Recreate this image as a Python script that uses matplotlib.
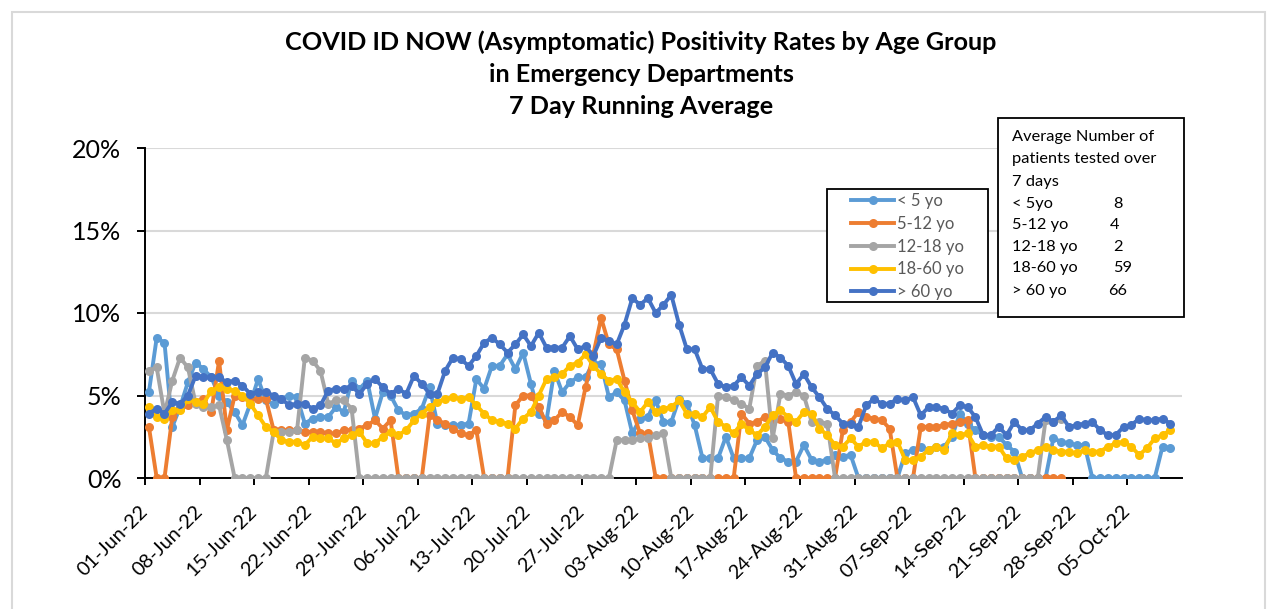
import numpy as np
import pandas as pd
import matplotlib
matplotlib.use('Agg')
import matplotlib.pyplot as plt
import matplotlib.dates as mdates
from matplotlib.patches import Rectangle
from matplotlib.ticker import PercentFormatter

plt.rcParams['font.family'] = ['Lato', 'DejaVu Sans']

# 7 day running average positivity (%), one value per day from 01-Jun-22
start = '2022-06-01'
n_days = 132
nan = np.nan

under5 = [5.2, 8.5, 8.2, 3.1, 4.3, 5.8, 7.0, 6.6, 6.1, 5.0, 4.6, 4.0, 3.2, 4.5, 6.0, 4.7, 4.5, 4.8, 5.0, 4.9,
          3.3, 3.6, 3.7, 3.7, 4.3, 4.0, 5.9, 5.4, 5.9, 3.6, 5.2, 5.0, 4.1, 3.8,
          3.9, 4.2, 5.5, 3.3, 3.2, 3.2, 3.2, 3.3, 6.0, 5.4, 6.8, 6.8, 7.5, 6.6, 7.6, 5.7, 3.9, 3.5, 6.5, 5.2,
          5.8, 6.1, 6.1, 7.0, 6.9, 4.9, 5.2, 4.7, 2.7, 3.6, 3.7,
          4.7, 3.4, 3.4, 4.8, 4.5, 3.2, 1.2, 1.2, 1.2, 2.5, 1.2, 1.2, 1.2, 2.3, 2.5, 1.7, 1.2, 1.0, 1.0, 2.0,
          1.1, 1.0, 1.1,
          1.4, 1.3, 1.4, 0, 0, 0, 0, 0, 0, 1.5, 1.7, 1.9,
          1.7, 1.9, 1.9, 2.5, 3.9, 3.3, 2.9, 2.6, 2.5, 2.5, 2.0, 1.6, 0, 0, 0, 0, 2.4, 2.2, 2.1, 2.0, 2.0,
          0, 0, 0, 0, 0, 0, 0, 0, 0, 1.9, 1.8]

age5_12 = [3.1, 0, 0, 3.7, 4.2, 4.4, 4.6, 4.8, 4.0, 7.1,
           2.9, 5.0, 4.9, 4.8, 4.8, 4.8, 2.9, 2.9, 2.9, 2.9, 2.8, 2.8, 2.8, 2.7, 2.7, 2.9, 2.9, 3.0, 3.2, 3.5,
           3.0, 3.5, 0, 0,
           0, 0, 3.8, 3.5, 3.3, 3.0, 2.7, 2.6, 2.9, 0, 0, 0, 0, 4.4, 5.0, 5.0, 4.3, 3.3, 3.5, 4.0, 3.7, 3.2,
           5.5, 7.5, 9.7, 8.1, 7.8, 5.9, 4.1, 2.7, 2.7, 0, 0,
           0, 0, 0, 0, 0, 0, 0, 0, 0, 3.9, 3.3, 3.4, 3.7, 3.5, 3.6, 3.4, 0, 0, 0, 0, 0, 0,
           2.9, 3.4, 4.0, 3.7, 3.6, 3.5, 3.0, 0, 0, 0, 3.1,
           3.1, 3.1, 3.2, 3.3, 3.4, 3.5, 0, 0, 0, 0, 0, 0, 0, 0, 0, 0, 0, 0,
           nan, nan, nan, nan, nan, nan, nan, nan, nan, nan, nan, nan, nan, nan]

age12_18 = [6.5, 6.7, 3.9, 5.9, 7.3, 6.7, 4.5, 4.3, 4.3, 4.4, 2.3, 0, 0, 0, 0, 0, 2.8, 2.8, 2.8, 2.9,
            7.3, 7.1, 6.5, 4.5, 4.7, 4.7, 4.2] + [0] * 33 + \
           [2.3, 2.3, 2.3, 2.4, 2.4, 2.6, 2.7] + [0] * 6 + \
           [5.0, 4.9, 4.7, 4.5, 4.2, 6.8, 7.1, 2.4, 5.1, 5.0, 5.2, 5.0, 3.4, 3.4, 3.3] + [0] * 27 + \
           [3.5, 3.4, 3.6] + [nan] * 14

age18_60 = [4.3, 3.7, 3.6, 4.1, 4.1, 4.8, 4.6, 4.5, 5.3, 5.5, 5.4, 5.3, 5.0, 4.5, 3.8, 3.1, 2.8, 2.3, 2.2,
            2.2, 2.0, 2.5, 2.4, 2.4, 2.1, 2.4, 2.6, 2.8, 2.1, 2.1, 2.5, 2.8, 2.6, 2.9,
            3.5, 3.9, 4.3, 4.6, 4.8, 4.9, 4.8, 4.9, 4.4, 3.9, 3.5, 3.4, 3.3, 3.0, 3.6, 4.0, 5.0, 6.0, 6.1,
            6.3, 6.8, 7.0, 7.5, 6.8, 6.3, 5.9, 6.0, 5.2, 4.6, 4.0, 4.6,
            4.0, 4.2, 4.3, 4.7, 3.9, 3.9, 3.7, 4.3, 3.4, 3.1, 2.7, 3.3, 2.9, 2.6, 3.1, 3.8, 4.1, 3.7, 3.4,
            4.0, 3.9, 3.0, 2.6, 2.0, 1.9, 2.4, 1.9, 2.2, 2.2, 1.8, 2.1, 2.2, 1.1,
            1.1, 1.3, 1.7, 1.9, 1.7, 2.7, 2.6, 2.7, 1.9, 2.0, 1.9, 1.9, 1.2, 1.1, 1.3, 1.5, 1.7, 1.9, 1.7,
            1.6, 1.6, 1.5, 1.7, 1.6, 1.6, 1.9, 2.1, 2.2, 1.9, 1.4, 1.8, 2.4, 2.6, 2.9]

over60 = [3.9, 4.2, 3.9, 4.6, 4.5, 5.0, 6.2, 6.1, 6.1, 6.1, 5.8, 5.9, 5.6, 5.1, 5.2, 5.2, 5.0, 4.8, 4.4,
          4.5, 4.5, 4.2, 4.4, 5.3, 5.4, 5.4, 5.6, 5.1, 5.7, 6.0, 5.5, 5.1, 5.4, 5.1,
          6.2, 5.7, 5.1, 5.1, 6.5, 7.3, 7.2, 6.8, 7.4, 8.2, 8.5, 8.1, 7.6, 8.1, 8.7, 8.0, 8.8, 7.9, 7.9,
          7.9, 8.6, 7.8, 8.0, 7.4, 8.5, 8.3, 8.1, 9.3, 10.9, 10.5, 10.9,
          10.0, 10.5, 11.1, 9.3, 7.8, 7.8, 6.6, 6.6, 5.7, 5.5, 5.6, 6.1, 5.6, 6.3, 6.7, 7.6, 7.3, 6.8, 5.7,
          6.3, 5.5, 4.9, 4.2, 3.8, 3.3, 3.3, 3.1, 4.4, 4.8, 4.5, 4.5, 4.8, 4.7,
          4.9, 3.8, 4.3, 4.3, 4.2, 3.9, 4.4, 4.3, 3.7, 2.6, 2.6, 3.1, 2.6, 3.4, 2.9, 2.9, 3.3, 3.7, 3.4,
          3.8, 3.1, 3.2, 3.3, 3.4, 2.9, 2.6, 2.6, 3.1, 3.2, 3.6, 3.5, 3.5, 3.6, 3.3]

labels = ['< 5 yo', '5-12 yo', '12-18 yo', '18-60 yo', '> 60 yo']
colors = ['#5B9BD5', '#ED7D31', '#A5A5A5', '#FFC000', '#4472C4']
series = [under5, age5_12, age12_18, age18_60, over60]

tested_groups = ['< 5yo', '5-12 yo', '12-18 yo', '18-60 yo', '> 60 yo']
tested_counts = ['8', '4', '2', '59', '66']

W, H = 1270, 609
fig = plt.figure(figsize=(W / 100, H / 100), dpi=100)

def fx(px):
    return px / W

def fy(py):
    return 1 - py / H

# light chart border
fig.patches.append(Rectangle((fx(12), fy(620)), fx(1265) - fx(12), fy(12) - fy(620),
                             transform=fig.transFigure, fill=False, edgecolor='#D9D9D9', lw=1.5))

ax = fig.add_axes([fx(145), fy(478), fx(1182) - fx(145), fy(148) - fy(478)])

dates = pd.date_range(start, periods=n_days, freq='D') + pd.Timedelta(hours=12)
lines = []
for vals, col, lab in zip(series, colors, labels):
    ln, = ax.plot(dates, vals, color=col, lw=2.8, marker='o', markersize=6.5,
                  markeredgewidth=0, label=lab, solid_joinstyle='round')
    lines.append(ln)

ax.set_ylim(0, 20)
ax.set_yticks([0, 5, 10, 15, 20])
ax.yaxis.set_major_formatter(PercentFormatter(xmax=100, decimals=0))
ax.set_xlim(pd.Timestamp('2022-06-01'), pd.Timestamp('2022-10-12'))
ax.set_xticks(pd.date_range('2022-06-01', '2022-10-05', freq='7D'))
ax.xaxis.set_major_formatter(mdates.DateFormatter('%d-%b-%y'))
ax.grid(axis='y', color='#D9D9D9', lw=1.5, zorder=0)
ax.set_axisbelow(True)
for s in ['top', 'right']:
    ax.spines[s].set_visible(False)
for s in ['left', 'bottom']:
    ax.spines[s].set_linewidth(1.4)
    ax.spines[s].set_color('black')
    ax.spines[s].set_zorder(1)
ax.tick_params(axis='y', direction='out', length=6, width=1.4, labelsize=18, pad=11)
ax.tick_params(axis='x', direction='out', length=5, width=1.4, labelsize=14.3, pad=17)
for t in ax.get_xticklabels():
    t.set_rotation(45)
    t.set_ha('right')
    t.set_va('center')
    t.set_rotation_mode('anchor')

# title
title_lines = ['COVID ID NOW (Asymptomatic) Positivity Rates by Age Group',
               'in Emergency Departments', '7 Day Running Average']
for txt, y in zip(title_lines, [42, 74, 107]):
    fig.text(fx(641), fy(y), txt, ha='center', va='center', fontsize=18.2, fontweight='bold')

# legend box
fig.patches.append(Rectangle((fx(827), fy(302)), fx(988) - fx(827), fy(189) - fy(302),
                             transform=fig.transFigure, facecolor='white', edgecolor='black', lw=1.3,
                             zorder=5))
leg = fig.legend(handles=lines, loc='upper left', bbox_to_anchor=(fx(851), fy(193)),
                 frameon=False, borderpad=0, borderaxespad=0, fontsize=12,
                 handlelength=2.6, handletextpad=0.15, labelspacing=0.41)
leg.set_zorder(6)
for t in leg.get_texts():
    t.set_color('#595959')

# patients tested box
fig.patches.append(Rectangle((fx(998), fy(317)), fx(1184) - fx(998), fy(118) - fy(317),
                             transform=fig.transFigure, facecolor='white', edgecolor='black', lw=1.3,
                             zorder=5))
for txt, y in zip(['Average Number of', 'patients tested over', '7 days'], [137, 159, 182]):
    fig.text(fx(1012), fy(y), txt, ha='left', va='center', fontsize=11.8, zorder=6)
for grp, cnt, y, xn in zip(tested_groups, tested_counts, [204, 225, 247, 268, 291],
                           [1113, 1110, 1113, 1113, 1108]):
    fig.text(fx(1012), fy(y), grp, ha='left', va='center', fontsize=11.8, zorder=6)
    fig.text(fx(xn), fy(y), cnt, ha='left', va='center', fontsize=11.8, zorder=6)

fig.savefig('out.png', dpi=100)
